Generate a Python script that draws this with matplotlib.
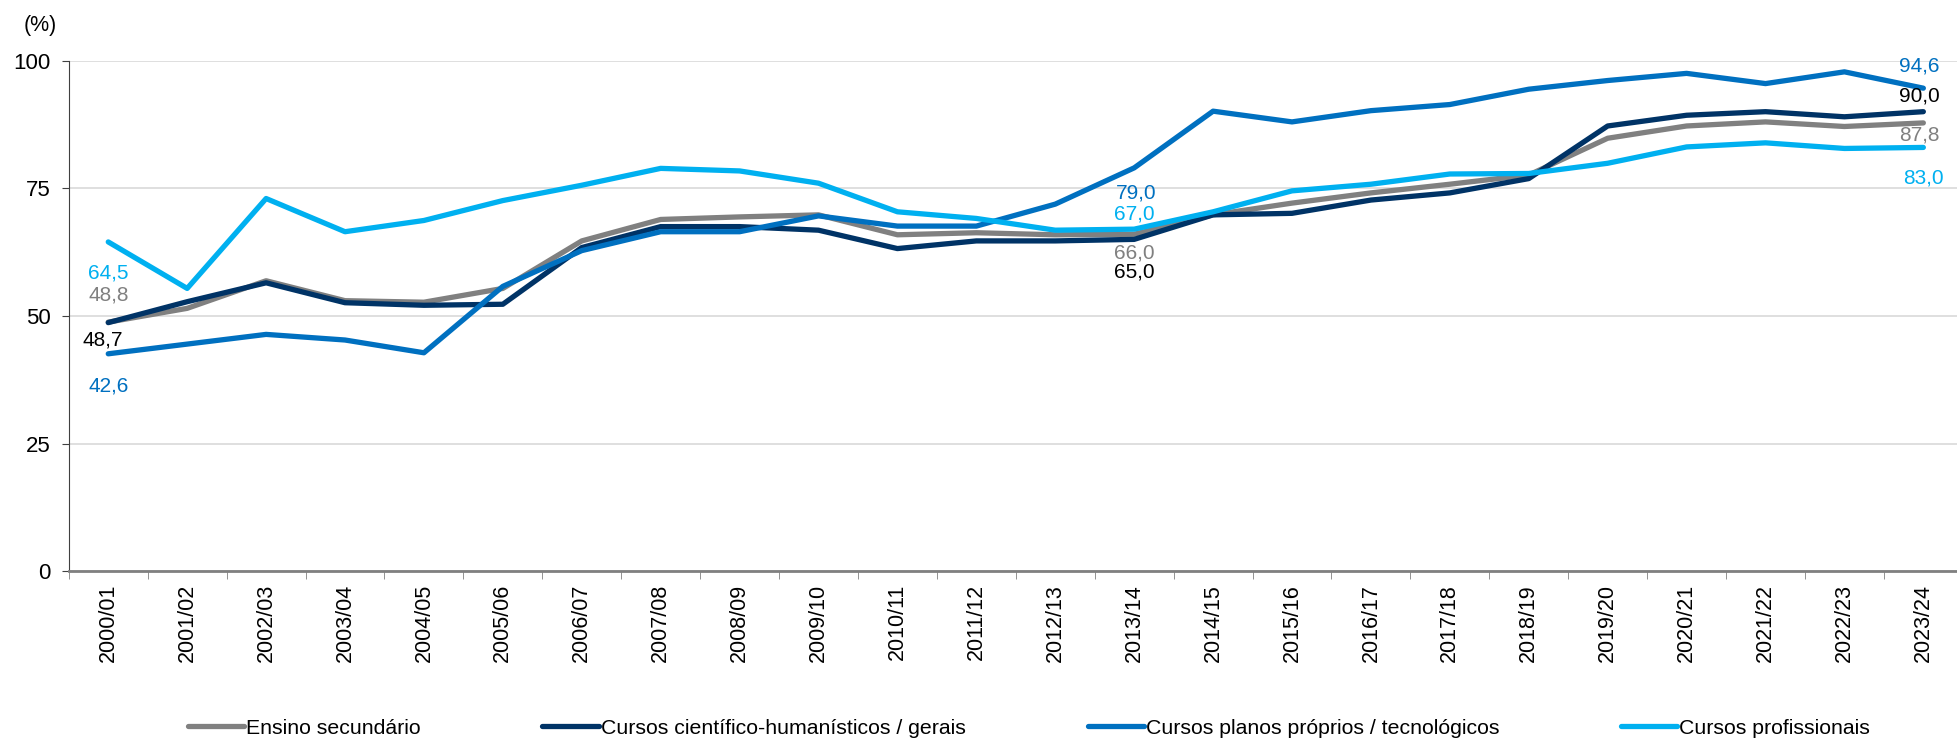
import matplotlib
matplotlib.use("Agg")
import matplotlib.pyplot as plt
import numpy as np

plt.rcParams["font.family"] = ["Liberation Sans", "DejaVu Sans"]

years = ["2000/01", "2001/02", "2002/03", "2003/04", "2004/05", "2005/06", "2006/07", "2007/08",
         "2008/09", "2009/10", "2010/11", "2011/12", "2012/13", "2013/14", "2014/15", "2015/16",
         "2016/17", "2017/18", "2018/19", "2019/20", "2020/21", "2021/22", "2022/23", "2023/24"]

ensino_sec = [48.8, 51.5, 56.9, 53.0, 52.7, 55.4, 64.7, 68.9, 69.4, 69.8, 65.9, 66.3,
              65.9, 66.0, 69.8, 72.1, 74.1, 75.8, 77.6, 84.8, 87.2, 88.0, 87.1, 87.8]
cient_hum = [48.7, 52.8, 56.5, 52.6, 52.1, 52.3, 63.4, 67.5, 67.5, 66.8, 63.2, 64.7,
             64.7, 65.0, 69.8, 70.1, 72.7, 74.1, 76.9, 87.2, 89.3, 90.0, 89.0, 90.0]
planos_tec = [42.6, 44.5, 46.4, 45.3, 42.8, 55.8, 62.8, 66.5, 66.5, 69.6, 67.6, 67.6,
              71.9, 79.0, 90.1, 88.0, 90.2, 91.4, 94.4, 96.1, 97.5, 95.5, 97.8, 94.6]
profissionais = [64.5, 55.4, 73.0, 66.5, 68.7, 72.6, 75.6, 78.9, 78.4, 76.0, 70.4, 69.1,
                 66.8, 67.0, 70.4, 74.5, 75.8, 77.8, 77.9, 79.9, 83.1, 83.9, 82.8, 83.0]

names = ["Ensino secundário", "Cursos científico-humanísticos / gerais",
         "Cursos planos próprios / tecnológicos", "Cursos profissionais"]
series = [ensino_sec, cient_hum, planos_tec, profissionais]
colors = ["#808080", "#003366", "#0070C0", "#00B0F0"]
label_colors = ["#808080", "#000000", "#0070C0", "#00B0F0"]

# which points get a value label: (series, year index, dx in categories, dy in % units)
labels = [(3, 0, 0, -6.0), (0, 0, 0, 5.3), (1, 0, -0.07, -3.4), (2, 0, 0, -6.3),
          (2, 13, 0.03, -4.9), (3, 13, 0, 3.0), (0, 13, 0, -3.7), (1, 13, 0, -6.3),
          (2, 23, -0.05, 4.3), (1, 23, -0.05, 3.1), (0, 23, -0.05, -2.4), (3, 23, 0, -5.9)]

fig = plt.figure(figsize=(19.57, 7.41), dpi=100)
ax = fig.add_axes([68.8 / 1957, 1 - 571.4 / 741, 1894 / 1957, 510.8 / 741])
x = np.arange(len(years))

for s, c, n in zip(series, colors, names):
    ax.plot(x, s, color=c, lw=3.8, label=n, solid_joinstyle="round", solid_capstyle="round")

for si, i, dx, dy in labels:
    v = series[si][i]
    ax.text(x[i] + dx, v + dy, ("%.1f" % v).replace(".", ","), color=label_colors[si],
            fontsize=15, ha="center", va="center")

ax.set_xlim(-0.5, 23.5)
ax.set_ylim(0, 100)
ax.set_yticks([0, 25, 50, 75, 100])
ax.yaxis.grid(True, color="#D9D9D9", lw=1.2)
ax.set_axisbelow(True)
ax.set_xticks(x)
ax.set_xticklabels(years, rotation=90, fontsize=15.5)
ax.set_xticks(np.arange(-0.5, 24, 1), minor=True)
ax.tick_params(axis="x", which="major", length=0, pad=9)
ax.tick_params(axis="x", which="minor", length=6, color="#808080")
ax.tick_params(axis="y", labelsize=16, length=5, pad=8, color="#404040")
for sp in ["top", "right"]:
    ax.spines[sp].set_visible(False)
ax.spines["left"].set_color("#404040")
ax.spines["bottom"].set_color("#808080")
ax.spines["bottom"].set_linewidth(2)

fig.text(40 / 1957, 1 - 25 / 741, "(%)", fontsize=15.5, ha="center", va="center")

fig.legend(loc="center", bbox_to_anchor=(1029 / 1957, 13 / 741), ncol=4, frameon=False,
           fontsize=15.3, handlelength=2.64, handletextpad=0.1, columnspacing=5.74)

fig.savefig("out.png", dpi=100)
